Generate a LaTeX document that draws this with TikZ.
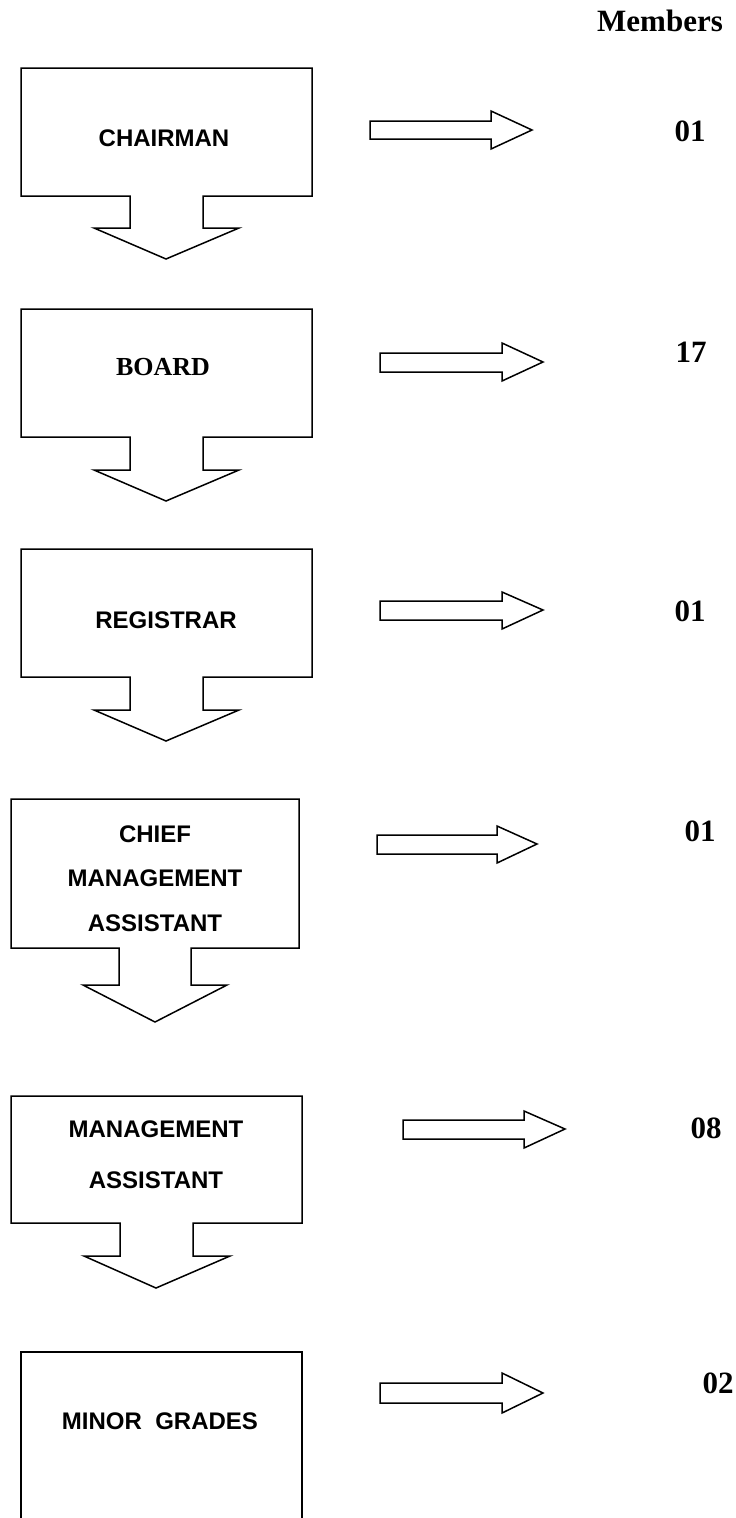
\documentclass[tikz,border=0pt]{standalone}
\usepackage{fontspec}
\setmainfont{Liberation Serif}
\setsansfont{Liberation Sans}
\begin{document}
\begin{tikzpicture}[x=1pt,y=-1pt]
\tikzset{
  blk/.style={draw=black, line width=1.5pt, line join=miter},
  lab/.style={font=\sffamily\bfseries\fontsize{24}{24}\selectfont, anchor=base, inner sep=0pt},
  serlab/.style={font=\rmfamily\bfseries\fontsize{26}{26}\selectfont, anchor=base, inner sep=0pt},
  num/.style={font=\rmfamily\bfseries\fontsize{31}{31}\selectfont, anchor=base, inner sep=0pt}
}
\useasboundingbox (0,0) rectangle (736,1518);
\clip (0,0) rectangle (736,1518);

% ---- boxes with down arrows
\draw[blk] (130,196) -- (21,196) -- (21,68) -- (312,68) -- (312,196) -- (203,196) -- (203,228) -- (239,228) -- (166,259) -- (94,228) -- (130,228) -- cycle;
\draw[blk] (130,437) -- (21,437) -- (21,309) -- (312,309) -- (312,437) -- (203,437) -- (203,470) -- (239,470) -- (166,501) -- (94,470) -- (130,470) -- cycle;
\draw[blk] (130,677) -- (21,677) -- (21,549) -- (312,549) -- (312,677) -- (203,677) -- (203,710) -- (239,710) -- (166,741) -- (94,710) -- (130,710) -- cycle;
\draw[blk] (119,948) -- (11,948) -- (11,799) -- (299,799) -- (299,948) -- (191,948) -- (191,985) -- (227,985) -- (155,1022) -- (83,985) -- (119,985) -- cycle;
\draw[blk] (120,1223) -- (11,1223) -- (11,1096) -- (302,1096) -- (302,1223) -- (193,1223) -- (193,1256) -- (230,1256) -- (156,1288) -- (84,1256) -- (120,1256) -- cycle;
\draw[blk] (21,1530) -- (21,1352) -- (302,1352) -- (302,1530);

% ---- right block arrows
\draw[blk] (370,121) -- (491,121) -- (491,111) -- (532,130) -- (491,149) -- (491,139) -- (370,139) -- cycle;
\draw[blk] (380,353) -- (502,353) -- (502,343) -- (543,362) -- (502,381) -- (502,372) -- (380,372) -- cycle;
\draw[blk] (380,601) -- (502,601) -- (502,592) -- (543,610) -- (502,629) -- (502,620) -- (380,620) -- cycle;
\draw[blk] (377,835) -- (497,835) -- (497,826) -- (537,844) -- (497,863) -- (497,854) -- (377,854) -- cycle;
\draw[blk] (403,1120) -- (524,1120) -- (524,1111) -- (565,1129) -- (524,1148) -- (524,1139) -- (403,1139) -- cycle;
\draw[blk] (380,1383) -- (502,1383) -- (502,1373) -- (543,1393) -- (502,1413) -- (502,1403) -- (380,1403) -- cycle;

% ---- labels
\node[lab] (chairman) at (164,146.6) {CHAIRMAN};
\node[serlab] (board) at (163,375.6) {BOARD};
\node[lab] (registrar) at (166,628.6) {REGISTRAR};
\node[lab] (chief1) at (155,842.6) {CHIEF};
\node[lab] (chief2) at (155,886.6) {MANAGEMENT};
\node[lab] (chief3) at (155,931.6) {ASSISTANT};
\node[lab] (ma1) at (156,1137.6) {MANAGEMENT};
\node[lab] (ma2) at (156,1188.6) {ASSISTANT};
\node[lab] (minor) at (160,1429.6) {MINOR\ \ GRADES};

% ---- numbers
\node[num] (members) at (660,31.5) {Members};
\node[num] (n1) at (690,141.5) {01};
\node[num] (n2) at (691,362.5) {17};
\node[num] (n3) at (690,621.5) {01};
\node[num] (n4) at (700,841.5) {01};
\node[num] (n5) at (706,1138.5) {08};
\node[num] (n6) at (718,1393.5) {02};
\end{tikzpicture}
\end{document}
